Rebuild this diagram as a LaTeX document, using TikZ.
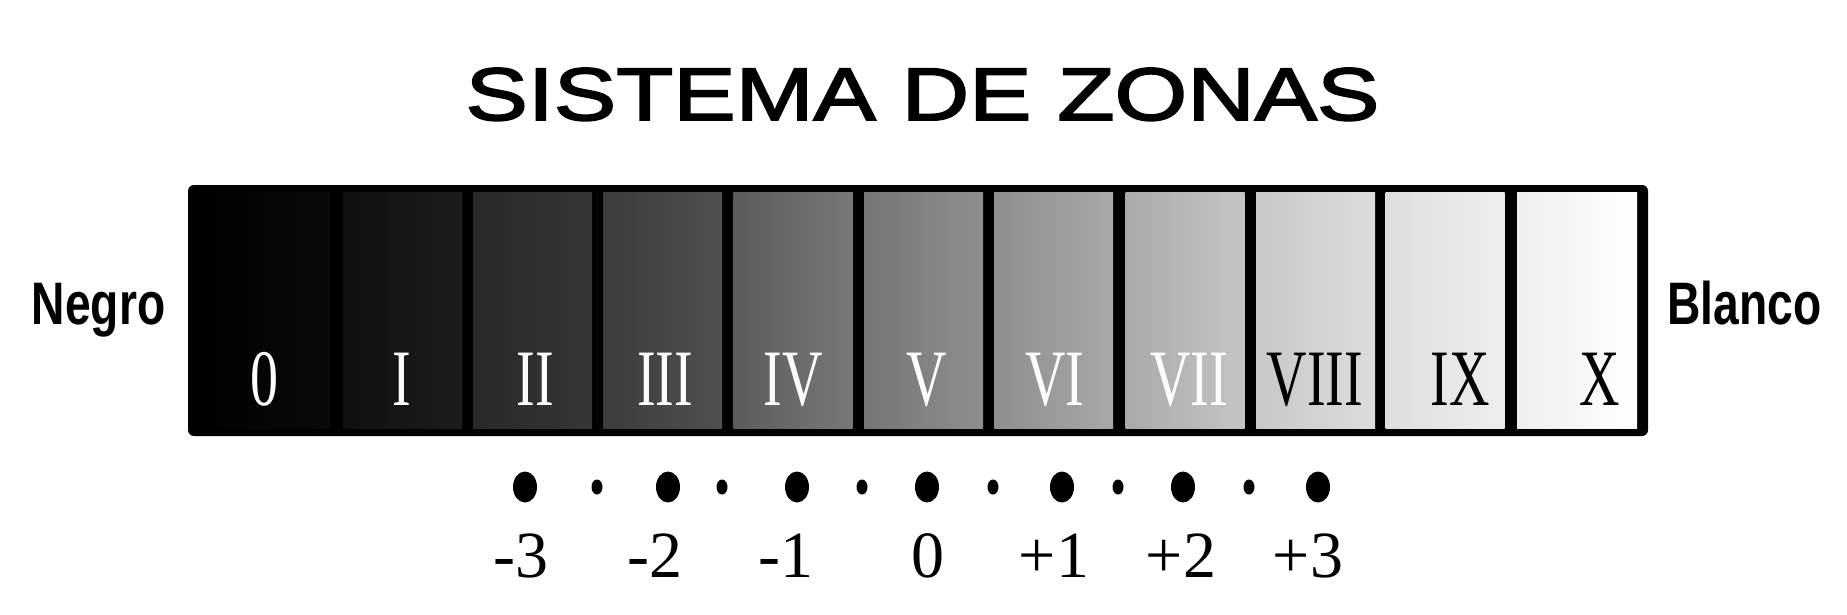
\documentclass[tikz,border=0pt]{standalone}
\usepackage{fontspec}
\setmainfont{Liberation Serif}
\newfontfamily\titlefont[FakeStretch=1.256,FakeBold=2.5]{Liberation Sans}
\newfontfamily\sidefont[FakeStretch=0.77]{Liberation Sans Bold}
\newfontfamily\zonefont[FakeStretch=0.7]{Liberation Serif}
\newfontfamily\numfont{Liberation Serif}
\usetikzlibrary{shapes.geometric}
\begin{document}
\begin{tikzpicture}[x=0.5pt,y=-0.5pt,
  frame/.style={rectangle, fill=black, rounded corners=3pt, inner sep=0, outer sep=0, anchor=north west},
  cell/.style={rectangle, draw=none, inner sep=0, outer sep=0, minimum height=118pt, anchor=north west},
  zl/.style={anchor=base, inner sep=0, font=\zonefont\fontsize{40pt}{40pt}\selectfont},
  nl/.style={anchor=base, inner sep=0, font=\numfont\fontsize{33pt}{33pt}\selectfont},
  side/.style={anchor=base, inner sep=0, font=\sidefont\fontsize{30pt}{31pt}\selectfont},
  bigdot/.style={ellipse, fill=black, inner sep=0, minimum width=12pt, minimum height=15.5pt},
  smalldot/.style={ellipse, fill=black, inner sep=0, minimum width=5.5pt, minimum height=7.5pt}]
\useasboundingbox (0,0) rectangle (1847,615);
\fill[white] (0,0) rectangle (1847,615);
% title
\node[anchor=base, inner sep=0, font=\titlefont\fontsize{37.2pt}{38pt}\selectfont] (title) at (922.5,120) {SISTEMA DE ZONAS};
% side labels
\node[side] (negro) at (98.5,324) {Negro};
\node[side] (blanco) at (1744.5,324) {Blanco};
% bar frame
\node[frame, minimum width=730pt, minimum height=125.5pt] (bar) at (188,185) {};
% cells
\foreach \n/\x/\a/\b/\w in {c0/196/0/10/67pt, c1/343/16/28/59.5pt, c2/473/40/54/59.5pt,
  c3/603/60/80/59.5pt, c4/733.5/92/120/59.5pt, c5/864/118/142/59.5pt, c6/994/142/168/59.5pt,
  c7/1125.5/170/196/59.5pt, c8/1256/200/220/59.5pt, c9/1385.5/222/238/59.5pt, c10/1517/238/255/60pt}{
  \definecolor{la}{RGB}{\a,\a,\a}\definecolor{lb}{RGB}{\b,\b,\b}
  \node[cell, minimum width=\w, left color=la, right color=lb] (\n) at (\x,192) {};
}
% zone numerals
\foreach \n/\t/\x/\c in {0/0/264/white, 1/I/402/white, 2/II/535/white, 3/III/665/white,
  4/IV/793/white, 5/V/927/white, 6/VI/1055/white, 7/VII/1189/white, 8/VIII/1315/black,
  9/IX/1460/black, 10/X/1600/black}{
  \node[zl, text=\c] (z\n) at (\x,405) {\t};
}
% dots
\foreach \n/\x in {1/525, 2/668, 3/797, 4/927, 5/1062, 6/1183, 7/1318}{
  \node[bigdot] (b\n) at (\x,487) {};
}
\foreach \n/\x in {1/597, 2/722, 3/862, 4/993, 5/1118, 6/1249}{
  \node[smalldot] (s\n) at (\x,487) {};
}
% numbers
\foreach \n/\t/\x in {1/-3/521, 2/-2/655, 3/-1/786, 4/0/928, 5/+1/1054, 6/+2/1181, 7/+3/1308}{
  \node[nl] (n\n) at (\x,577) {\t};
}
\end{tikzpicture}
\end{document}
